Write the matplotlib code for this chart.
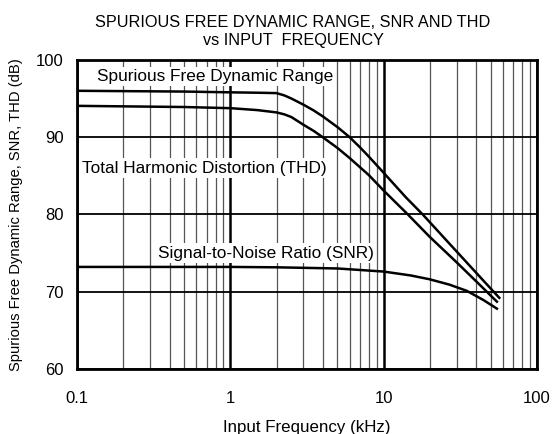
"""SFDR, SNR and THD versus input frequency (datasheet style)."""
import matplotlib
matplotlib.use("Agg")
import matplotlib.pyplot as plt
from matplotlib.ticker import FixedLocator, LogLocator, NullFormatter

plt.rcParams.update({"font.family": ["Liberation Sans", "DejaVu Sans"]})

SFDR_FREQ = [0.1, 0.5, 1, 1.5, 2, 2.25, 2.5, 3, 3.5, 4, 5, 6, 7, 8, 10, 14, 18, 30, 45, 57]
SFDR_DB = [96.0, 95.9, 95.8, 95.75, 95.7, 95.4, 95.0, 94.2, 93.45, 92.7, 91.3, 90.0, 88.7, 87.5, 85.4, 82.2, 80.0, 75.2, 71.4, 69.2]

THD_FREQ = [0.1, 0.5, 1, 1.5, 2, 2.25, 2.5, 3, 3.5, 4, 5, 6, 8, 10, 14.4, 20, 30, 45, 55]
THD_DB = [94.05, 93.9, 93.75, 93.5, 93.2, 92.95, 92.6, 91.6, 90.8, 90.0, 88.6, 87.3, 85.1, 83.1, 80.0, 77.1, 73.8, 70.4, 68.7]

SNR_FREQ = [0.1, 0.5, 1, 2, 5, 10, 15, 20, 27, 35, 45, 55]
SNR_DB = [73.2, 73.2, 73.2, 73.15, 73.0, 72.6, 72.1, 71.6, 70.9, 70.1, 68.9, 67.8]

TITLE = "SPURIOUS FREE DYNAMIC RANGE, SNR AND THD\nvs INPUT  FREQUENCY"
X_TICKS = [0.1, 1, 10, 100]
X_TICK_LABELS = ["0.1", "1", "10", "100"]
Y_TICKS = [60, 70, 80, 90, 100]

fig = plt.figure(figsize=(5.53, 4.34), dpi=100, facecolor="white")
ax = fig.add_axes([0.1398, 0.150, 0.8307, 0.712])

for freq, db in [(SFDR_FREQ, SFDR_DB), (THD_FREQ, THD_DB), (SNR_FREQ, SNR_DB)]:
    ax.plot(freq, db, color="black", linewidth=1.8, zorder=4)

ax.set_xscale("log")
ax.set_xlim(0.1, 100)
ax.set_ylim(60, 100)

ax.xaxis.set_major_locator(FixedLocator(X_TICKS))
ax.set_xticklabels(X_TICK_LABELS)
ax.xaxis.set_minor_locator(LogLocator(base=10, subs=range(2, 10)))
ax.xaxis.set_minor_formatter(NullFormatter())
ax.set_yticks(Y_TICKS)

ax.grid(which="major", axis="x", color="black", linewidth=1.8, zorder=1)
ax.grid(which="minor", axis="x", color="#555555", linewidth=0.9, zorder=1)
ax.grid(which="major", axis="y", color="black", linewidth=1.3, zorder=1)
ax.set_axisbelow(True)

ax.tick_params(which="both", length=0, labelsize=12)
ax.tick_params(axis="x", pad=16)
ax.tick_params(axis="y", pad=10)
for spine in ax.spines.values():
    spine.set_linewidth(2.0)
    spine.set_zorder(5)

box = dict(facecolor="white", edgecolor="none", pad=1.5)
ax.text(0.1345, 97.9, "Spurious Free Dynamic Range", fontsize=12.4, va="center", ha="left", bbox=box, zorder=3)
ax.text(0.1073, 86.0, "Total Harmonic Distortion (THD)", fontsize=12.4, va="center", ha="left", bbox=box, zorder=3)
ax.text(0.336, 75.0, "Signal-to-Noise Ratio (SNR)", fontsize=12.4, va="center", ha="left", bbox=box, zorder=3)

ax.set_xlabel("Input Frequency (kHz)", fontsize=12.2, labelpad=10)
ax.set_ylabel("Spurious Free Dynamic Range, SNR, THD (dB)", fontsize=10.6, labelpad=9)
fig.text(0.53, 0.965, TITLE, ha="center", va="top", fontsize=11.7, linespacing=1.2)

fig.savefig("out.png", dpi=100, facecolor="white")
